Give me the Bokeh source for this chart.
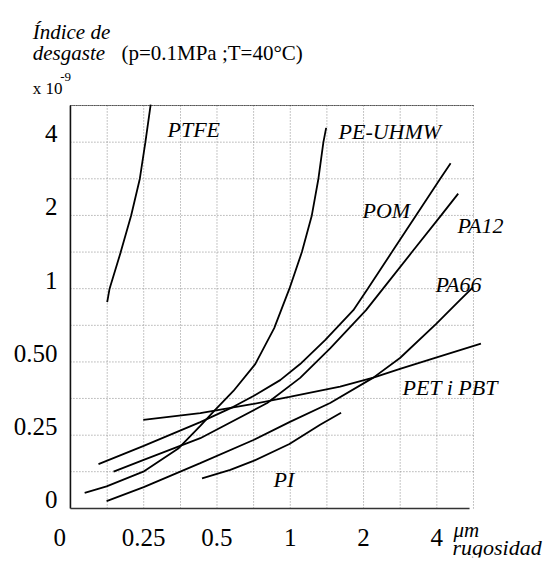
from bokeh.plotting import figure
from bokeh.models import FixedTicker, Label, Range1d, LogScale
from bokeh.embed import file_html
from bokeh.resources import INLINE

# ---- data (roughness in um, wear index x 1e-9) ----
ptfe_x = [0.177, 0.181, 0.201, 0.222, 0.241, 0.254, 0.267]
ptfe_y = [0.88, 1.0, 1.41, 2.0, 2.83, 4.0, 5.7]

pe_x = [0.143, 0.176, 0.249, 0.348, 0.427, 0.487, 0.584, 0.718, 0.859, 0.992, 1.116, 1.226, 1.305, 1.368, 1.404]
pe_y = [0.145, 0.154, 0.177, 0.221, 0.273, 0.315, 0.380, 0.490, 0.689, 1.0, 1.414, 2.0, 2.83, 4.0, 4.58]

pom_x = [0.163, 0.25, 0.427, 0.584, 0.706, 0.909, 1.098, 1.390, 1.816, 2.081, 2.615, 3.284, 4.130, 4.557]
pom_y = [0.190, 0.226, 0.283, 0.327, 0.362, 0.421, 0.490, 0.615, 0.816, 1.0, 1.414, 2.0, 2.83, 3.28]

pa12_x = [0.188, 0.25, 0.427, 0.804, 1.098, 1.458, 2.048, 2.405, 3.162, 4.165, 4.896]
pa12_y = [0.177, 0.198, 0.243, 0.339, 0.430, 0.569, 0.816, 1.0, 1.414, 2.0, 2.457]

pa66_x = [0.176, 0.25, 0.427, 0.706, 0.992, 1.458, 2.194, 2.823, 3.966, 4.975, 5.64]
pa66_y = [0.134, 0.153, 0.192, 0.239, 0.283, 0.339, 0.431, 0.519, 0.715, 0.897, 1.014]

pet_x = [0.249, 0.427, 0.706, 0.992, 1.602, 2.194, 2.823, 3.966, 6.07]
pet_y = [0.289, 0.308, 0.336, 0.359, 0.396, 0.431, 0.468, 0.521, 0.595]

pi_x = [0.434, 0.567, 0.706, 0.992, 1.326, 1.617]
pi_y = [0.166, 0.180, 0.196, 0.230, 0.276, 0.309]

x_ticks = [0.113, 0.25, 0.5, 1, 2, 4]
x_tick_labels = ["0", "0.25", "0.5", "1", "2", "4"]
y_ticks = [0.125, 0.25, 0.5, 1, 2, 4]
y_tick_labels = ["0", "0.25", "0.50", "1", "2", "4"]
grid_vals = [0.177, 0.25, 0.354, 0.5, 0.707, 1, 1.414, 2, 2.828, 4, 5.657]
axis_min = 0.125          # value shown as "0" on both axes
axis_max = 5.657          # top / right edge of the grid
x_axis_end = 5.45         # where the solid x axis line stops

# curve label names and their anchor (data units, left/baseline)
curve_labels = [
    ("PTFE", 0.313, 4.49),
    ("PE-UHMW", 1.578, 4.44),
    ("POM", 1.98, 2.105),
    ("PA12", 4.863, 1.81),
    ("PA66", 3.949, 1.036),
    ("PET i PBT", 2.89, 0.391),
    ("PI", 0.853, 0.164),
]

SERIF = "Liberation Serif"

y_start, y_end = 0.0786, 15.28
label_shift = 0.923   # y tick labels sit on (not centred on) their grid line

p = figure(width=543, height=561, x_axis_type="log", y_axis_type="log",
           x_range=(0.0670, 10.97), y_range=(y_start, y_end),
           extra_y_ranges={"ylab": Range1d(y_start * label_shift, y_end * label_shift)},
           extra_y_scales={"ylab": LogScale()},
           output_backend="svg", toolbar_location=None,
           min_border_left=4, min_border_right=0,
           min_border_top=0, min_border_bottom=4)
p.outline_line_color = None
p.background_fill_color = "white"
p.border_fill_color = "white"
p.grid.visible = False

# dotted grid limited to the chart box
n = len(grid_vals)
p.segment(x0=grid_vals, y0=[axis_min] * n, x1=grid_vals, y1=[axis_max] * n,
          line_color="#8c8c8c", line_dash="1 2", line_width=1)
p.segment(x0=[axis_min] * n, y0=grid_vals, x1=[axis_max] * n, y1=grid_vals,
          line_color="#8c8c8c", line_dash="1 2", line_width=1)
# top border (dark dotted)
p.segment(x0=[axis_min], y0=[axis_max], x1=[axis_max], y1=[axis_max],
          line_color="black", line_dash="1 1", line_width=1)
# solid axis lines
p.segment(x0=[axis_min], y0=[axis_min], x1=[axis_min], y1=[axis_max],
          line_color="#111111", line_width=1.6)
p.segment(x0=[axis_min], y0=[axis_min], x1=[x_axis_end], y1=[axis_min],
          line_color="#333333", line_width=1.6)

# axes: only their tick labels are shown
p.yaxis[0].y_range_name = "ylab"
for ax in (p.xaxis[0], p.yaxis[0]):
    ax.axis_line_color = None
    ax.major_tick_line_color = None
    ax.minor_tick_line_color = None
    ax.major_tick_out = 0
    ax.major_tick_in = 0
    ax.minor_tick_out = 0
    ax.minor_tick_in = 0
    ax.major_label_text_font = SERIF
    ax.major_label_text_font_size = "25px"
    ax.major_label_text_color = "black"
p.xaxis.ticker = FixedTicker(ticks=x_ticks)
p.yaxis.ticker = FixedTicker(ticks=y_ticks)
p.xaxis.major_label_overrides = {t: s for t, s in zip(x_ticks, x_tick_labels)}
p.yaxis.major_label_overrides = {t: s for t, s in zip(y_ticks, y_tick_labels)}
p.xaxis.major_label_standoff = -29
p.yaxis.major_label_standoff = -53

# curves
for xs, ys in [(ptfe_x, ptfe_y), (pe_x, pe_y), (pom_x, pom_y), (pa12_x, pa12_y),
               (pa66_x, pa66_y), (pet_x, pet_y), (pi_x, pi_y)]:
    p.line(xs, ys, line_color="black", line_width=1.8)

def add_text(txt, x, y, size, style="normal"):
    p.add_layout(Label(x=x, y=y, text=txt, text_font=SERIF, text_font_style=style,
                       text_font_size=size, text_baseline="alphabetic",
                       text_align="left", text_color="black"))

for txt, lx, ly in curve_labels:
    add_text(txt, lx, ly, "22px", "italic")

# titles / unit texts
add_text("Índice de", 0.0875, 11.32, "21px", "italic")
add_text("desgaste", 0.0875, 9.315, "21px", "italic")
add_text("(p=0.1MPa ;T=40°C)", 0.2025, 9.315, "21px")
add_text("x 10", 0.0875, 6.626, "17px")
add_text("-9", 0.1135, 7.395, "13px")
add_text("μm", 4.682, 0.1015, "21px", "italic")
add_text("rugosidad", 4.638, 0.0864, "22px", "italic")

open("out.html", "w").write(file_html(p, INLINE))
